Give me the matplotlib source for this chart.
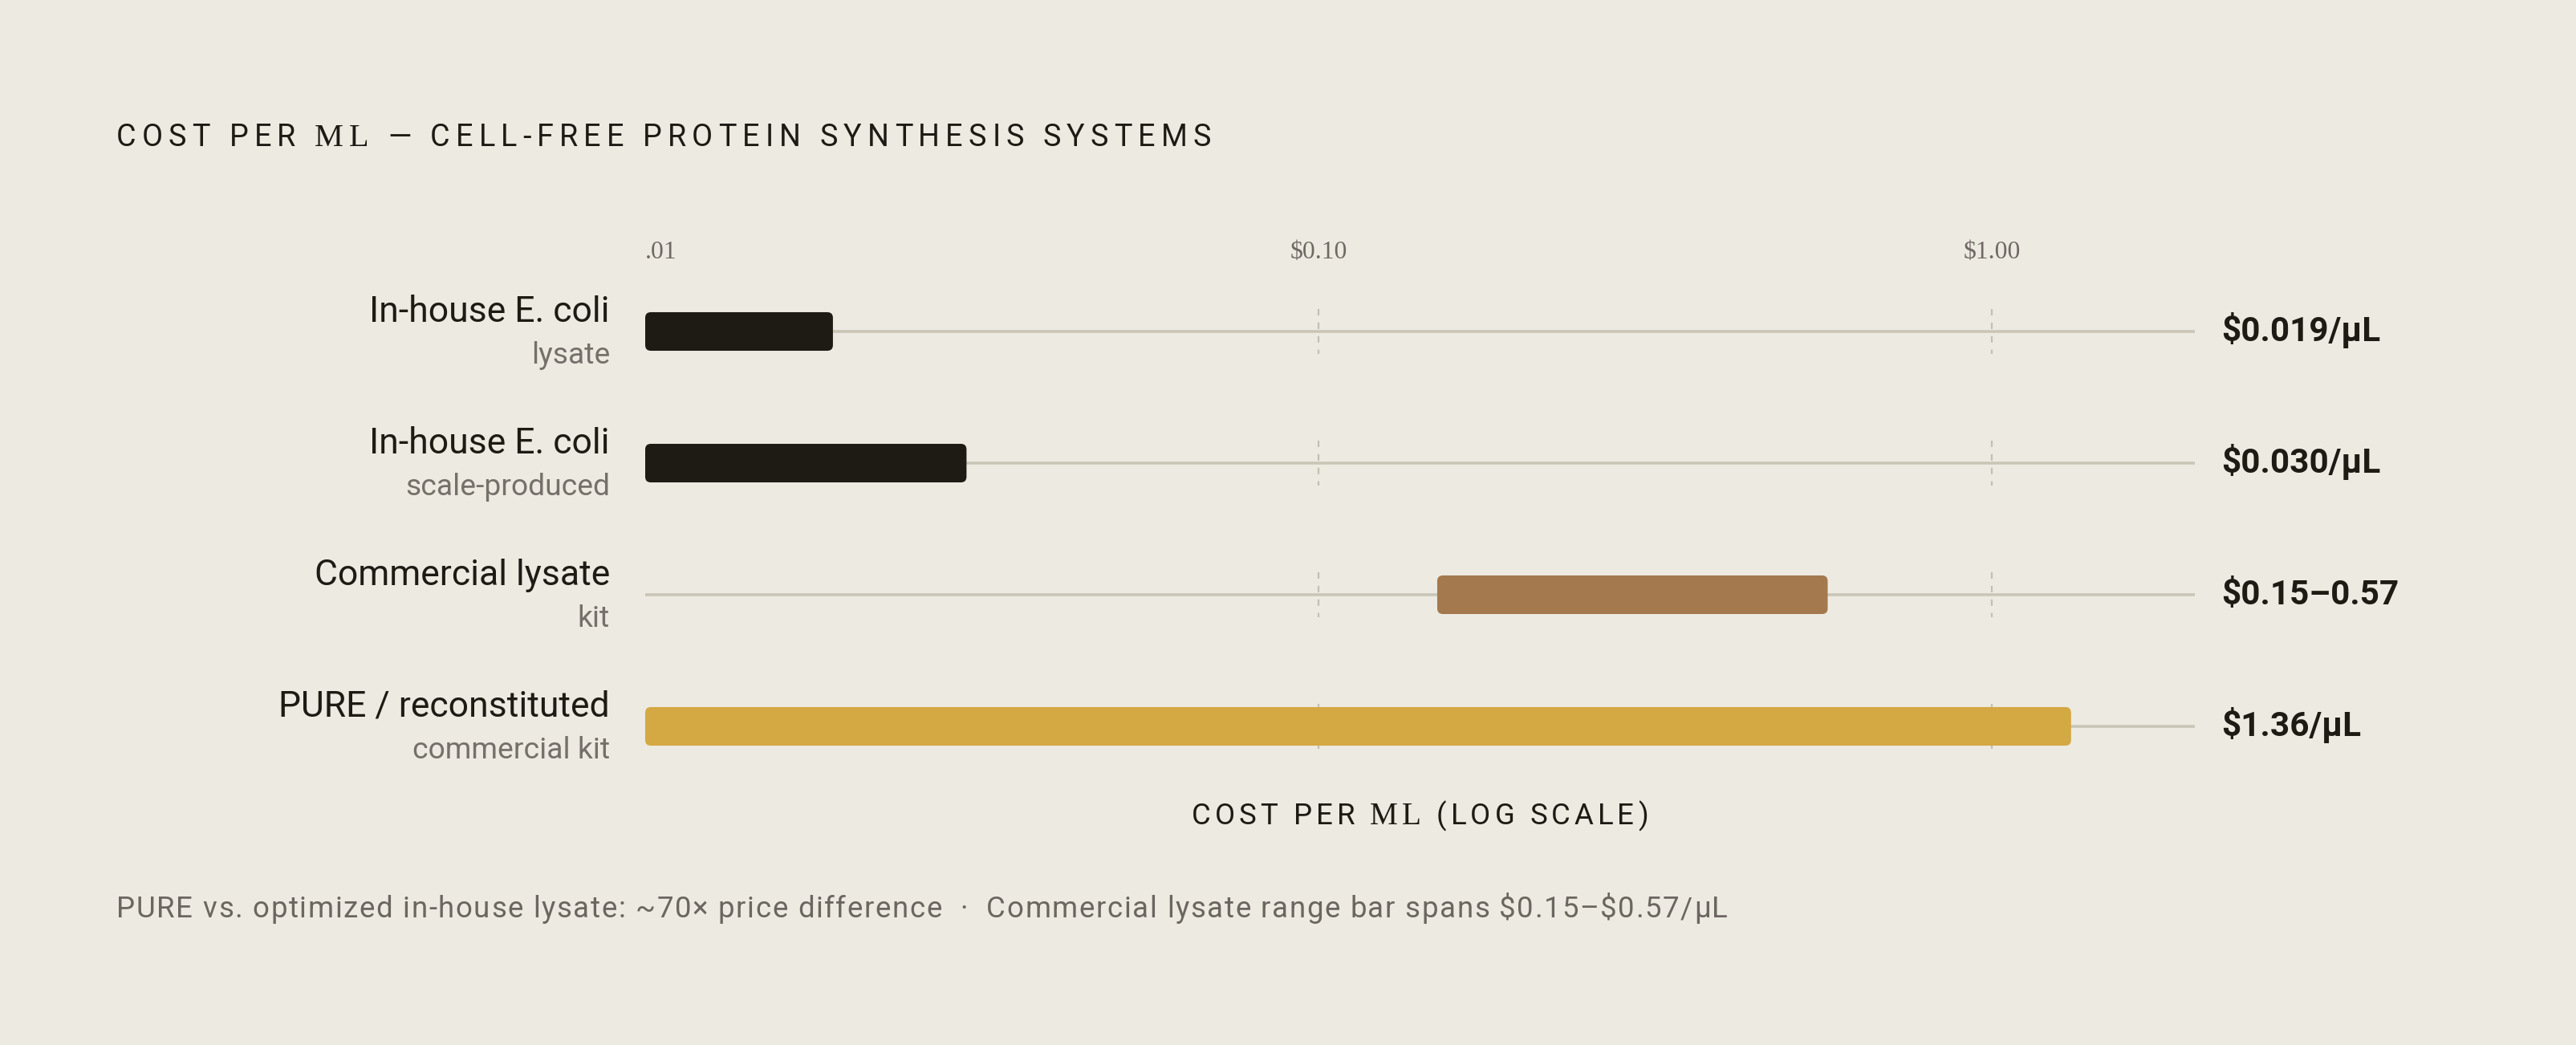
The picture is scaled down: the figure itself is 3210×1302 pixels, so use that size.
import matplotlib
matplotlib.use("Agg")
import matplotlib.pyplot as plt
from matplotlib.patches import FancyBboxPatch
from matplotlib.transforms import blended_transform_factory

# Data
CATEGORIES = ["In-house E. coli", "In-house E. coli", "Commercial lysate", "PURE / reconstituted"]
SUBLABELS = ["lysate", "scale-produced", "kit", "commercial kit"]
BAR_START = [0.01, 0.01, 0.15, 0.01]
BAR_END = [0.019, 0.030, 0.57, 1.31]
VALUE_LABELS = ["$0.019/µL", "$0.030/µL", "$0.15–0.57", "$1.36/µL"]
TICKS = [0.01, 0.1, 1.0]
TICK_LABELS = [".01", "$0.10", "$1.00"]
XLIM = (0.01, 2.0)

TITLE = [("COST PER ", "sans"), ("ML", "serif"),
         (" — CELL-FREE PROTEIN SYNTHESIS SYSTEMS", "sans")]
XLABEL = [("COST PER ", "sans"), ("ML", "serif"), (" (LOG SCALE)", "sans")]
FOOTNOTE = [("PURE vs. optimized in-house lysate: ~70× price difference  ·  "
             "Commercial lysate range bar spans $0.15–$0.57/µL", "sans")]

BG = "#edeae2"
BAR_COLORS = ["#1e1b14", "#1e1b14", "#a3794d", "#d4a843"]
TRACK = "#c9c6b7"
GRID = "#c3bfb1"
DARK = "#1e1b14"
GRAY = "#75716a"

FAM = {"sans": ["Roboto", "DejaVu Sans"], "serif": ["Liberation Serif", "DejaVu Serif"]}

W, H, DPI = 3210, 1302, 200
fig = plt.figure(figsize=(W / DPI, H / DPI), dpi=DPI, facecolor=BG)
renderer = fig.canvas.get_renderer()

_cache = {}


def text_w(s, size, fam, weight="normal"):
    t = fig.text(0, 0, s, fontsize=size, fontfamily=FAM[fam], fontweight=weight,
                 parse_math=False)
    w = t.get_window_extent(renderer).width
    t.remove()
    return w


def advance(c, size, fam):
    key = (c, size, fam)
    if key not in _cache:
        _cache[key] = text_w("H" + c + "H", size, fam) - text_w("HH", size, fam)
    return _cache[key]


def tracked(runs, x, baseline, size, color, width, ha="left"):
    # letter-spaced text, drawn glyph by glyph (pixel coords, y from top)
    chars = []
    for s, fam in runs:
        sz = size * 1.07 if fam == "serif" else size
        chars += [(c, fam, sz) for c in s]
    advs = [advance(c, sz, fam) for c, fam, sz in chars]
    track = (width - sum(advs)) / (len(chars) - 1)
    if ha == "center":
        x = x - width / 2
    for (c, fam, sz), a in zip(chars, advs):
        if c != " ":
            fig.text(x / W, 1 - baseline / H, c, fontsize=sz, fontfamily=FAM[fam],
                     color=color, va="baseline", ha="left", parse_math=False)
        x += a + track


AX_L, AX_R, AX_T, AX_B = 804, 2735, 331, 987
ax = fig.add_axes([AX_L / W, 1 - AX_B / H, (AX_R - AX_L) / W, (AX_B - AX_T) / H])
ax.set_facecolor(BG)
ax.set_xscale("log")
ax.set_xlim(*XLIM)
ax.set_ylim(len(CATEGORIES) - 0.5, -0.5)
for sp in ax.spines.values():
    sp.set_visible(False)
ax.set_yticks([])

# tick labels on top
ax.xaxis.tick_top()
ax.set_xticks(TICKS)
ax.set_xticklabels(TICK_LABELS, fontfamily=FAM["serif"], fontsize=11.4, color="#6e6a63")
ax.tick_params(axis="x", length=0, pad=3.2)
ax.minorticks_off()
for lbl in ax.get_xticklabels():
    lbl.set_verticalalignment("baseline")
ax.get_xticklabels()[0].set_horizontalalignment("left")

BAR_H = 0.293
rows = range(len(CATEGORIES))

# tracks and dashed grid segments
for i in rows:
    ax.plot(XLIM, [i, i], color=TRACK, lw=1.3, zorder=1, solid_capstyle="butt")
    for t in TICKS[1:]:
        ax.plot([t, t], [i - 0.171, i + 0.171], color=GRID, lw=0.8,
                ls=(0, (3.6, 4.0)), zorder=1)

# rounded bars, corners computed in pixel space
for i in rows:
    (x0, y0), (x1, y1) = ax.transData.transform(
        [(BAR_START[i], i + BAR_H / 2), (BAR_END[i], i - BAR_H / 2)])
    patch = FancyBboxPatch((x0, y0), x1 - x0, y1 - y0,
                           boxstyle="round,pad=0,rounding_size=7",
                           transform=None, facecolor=BAR_COLORS[i],
                           edgecolor="none", zorder=3)
    patch.set_figure(fig)
    fig.patches.append(patch)

# row labels
lab_tr = blended_transform_factory(ax.transAxes, ax.transData)
for i in rows:
    ax.text(-0.0228, i - 0.075, CATEGORIES[i], transform=lab_tr, ha="right",
            va="baseline", fontsize=16, color=DARK, fontfamily=FAM["sans"])
    ax.text(-0.0228, i + 0.244, SUBLABELS[i], transform=lab_tr, ha="right",
            va="baseline", fontsize=13.4, color=GRAY, fontfamily=FAM["sans"])
    ax.text(1.0171, i + 0.073, VALUE_LABELS[i], transform=lab_tr, ha="left",
            va="baseline", fontsize=15.2, color=DARK, fontfamily=FAM["sans"],
            fontweight="bold", parse_math=False)

tracked(TITLE, 145, 182, 13.6, DARK, 1509 - 145)
tracked(XLABEL, (AX_L + AX_R) / 2, 1027, 13.2, DARK, 2053 - 1484, ha="center")
tracked(FOOTNOTE, 145, 1143, 13.2, "#6b6760", 2153 - 145)

fig.savefig("out.png", dpi=DPI, facecolor=BG)
